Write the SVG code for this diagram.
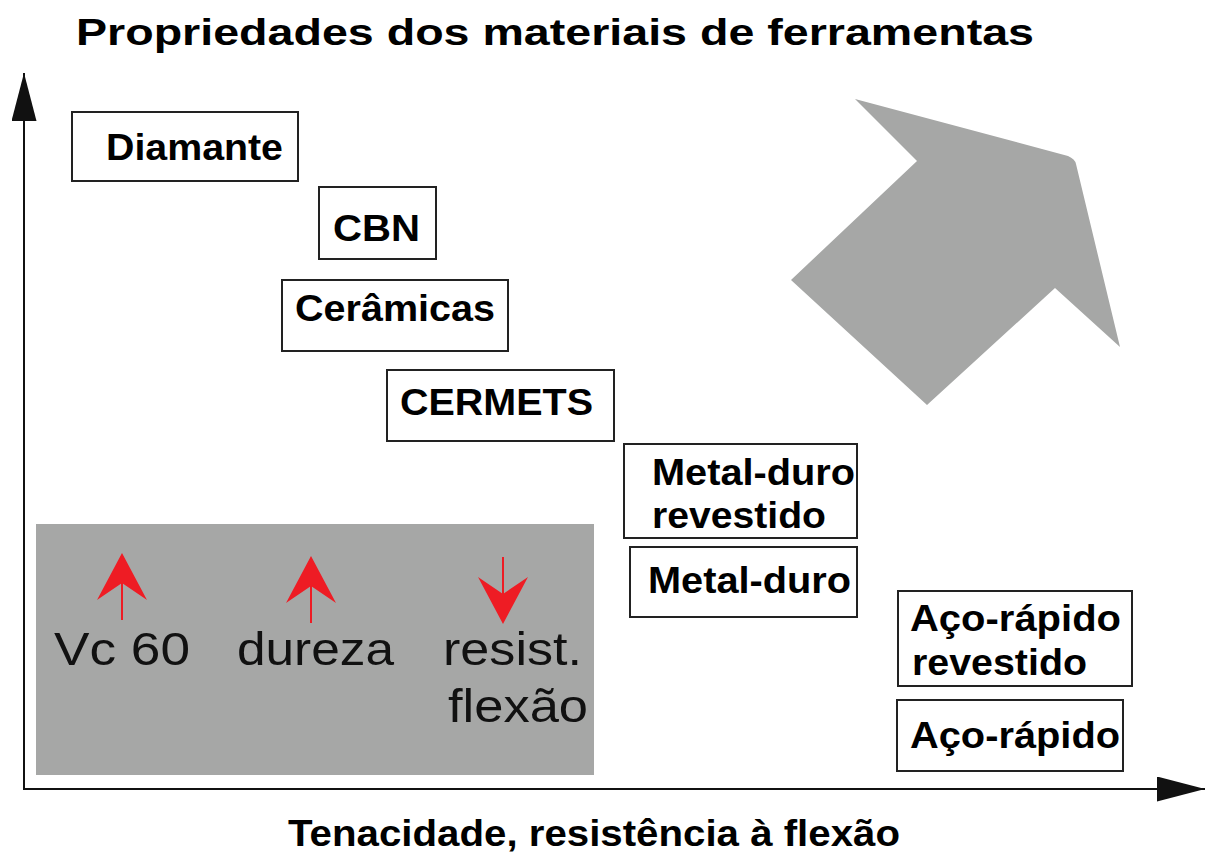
<svg xmlns="http://www.w3.org/2000/svg" width="1208" height="855" viewBox="0 0 1208 855">
<style>
.box{fill:#fff;stroke:#222;stroke-width:2}
.bt{font-family:"Liberation Sans",Arial,sans-serif;font-weight:bold;font-size:36px;fill:#000}
.gt{font-family:"Liberation Sans",Arial,sans-serif;font-size:47px;fill:#111}
.axis{stroke:#111;stroke-width:2;fill:none}
.red{stroke:#ee1c24;stroke-width:2}
</style>
<defs>
<marker id="ah" markerUnits="userSpaceOnUse" markerWidth="50" markerHeight="26" refX="48" refY="12.5" orient="auto">
<path d="M0,0 L48,12.5 L0,25 Z" fill="#111"/>
</marker>
<path id="rh" d="M0,0 L25,47 L0,30 L-25,47 Z" fill="#ee1c24"/>
</defs>
<rect width="1208" height="855" fill="#fff"/>
<text class="bt" x="76" y="45" font-size="41" textLength="958" lengthAdjust="spacingAndGlyphs">Propriedades dos materiais de ferramentas</text>
<path d="M791,280 L917,161 L855,99 L1068,156 Q1075,159 1076,164 L1120,347 L1055,288 L927,405 Z" fill="#a6a7a6"/>
<g id="connectors">
<line class="axis" x1="24" y1="790" x2="24" y2="73" marker-end="url(#ah)"/>
<line class="axis" x1="23" y1="789" x2="1205" y2="789" marker-end="url(#ah)"/>
</g>
<g id="legend">
<rect x="36" y="524" width="558" height="251" fill="#a6a7a6"/>
<line class="red" x1="122" y1="583" x2="122" y2="620"/>
<use href="#rh" transform="translate(122,553)"/>
<line class="red" x1="311" y1="585" x2="311" y2="623"/>
<use href="#rh" transform="translate(311,556)"/>
<line class="red" x1="503" y1="557" x2="503" y2="597"/>
<use href="#rh" transform="translate(503,624) rotate(180)"/>
<text class="gt" x="54" y="665" textLength="136" lengthAdjust="spacingAndGlyphs">Vc 60</text>
<text class="gt" x="237" y="665" textLength="157" lengthAdjust="spacingAndGlyphs">dureza</text>
<text class="gt" x="443" y="665" textLength="139" lengthAdjust="spacingAndGlyphs">resist.</text>
<text class="gt" x="448" y="722" textLength="140" lengthAdjust="spacingAndGlyphs">flexão</text>
</g>
<g id="diamante"><rect class="box" x="72" y="112" width="226" height="69"/><text class="bt" x="106" y="160" textLength="177" lengthAdjust="spacingAndGlyphs">Diamante</text></g>
<g id="cbn"><rect class="box" x="319" y="187" width="117" height="72"/><text class="bt" x="333" y="241" textLength="87" lengthAdjust="spacingAndGlyphs">CBN</text></g>
<g id="ceramicas"><rect class="box" x="282" y="280" width="226" height="71"/><text class="bt" x="295" y="321" textLength="200" lengthAdjust="spacingAndGlyphs">Cerâmicas</text></g>
<g id="cermets"><rect class="box" x="387" y="370" width="227" height="71"/><text class="bt" x="400" y="415" textLength="193" lengthAdjust="spacingAndGlyphs">CERMETS</text></g>
<g id="metalduro-revestido"><rect class="box" x="624" y="444" width="233" height="94"/><text class="bt" x="652" y="485" textLength="203" lengthAdjust="spacingAndGlyphs">Metal-duro</text><text class="bt" x="652" y="528" textLength="174" lengthAdjust="spacingAndGlyphs">revestido</text></g>
<g id="metalduro"><rect class="box" x="630" y="547" width="227" height="70"/><text class="bt" x="648" y="593" textLength="203" lengthAdjust="spacingAndGlyphs">Metal-duro</text></g>
<g id="acorapido-revestido"><rect class="box" x="898" y="591" width="234" height="95"/><text class="bt" x="910" y="631" textLength="211" lengthAdjust="spacingAndGlyphs">Aço-rápido</text><text class="bt" x="912" y="675" textLength="175" lengthAdjust="spacingAndGlyphs">revestido</text></g>
<g id="acorapido"><rect class="box" x="897" y="700" width="226" height="71"/><text class="bt" x="910" y="748" textLength="210" lengthAdjust="spacingAndGlyphs">Aço-rápido</text></g>
<text class="bt" x="288" y="846" textLength="612" lengthAdjust="spacingAndGlyphs">Tenacidade, resistência à flexão</text>
</svg>
